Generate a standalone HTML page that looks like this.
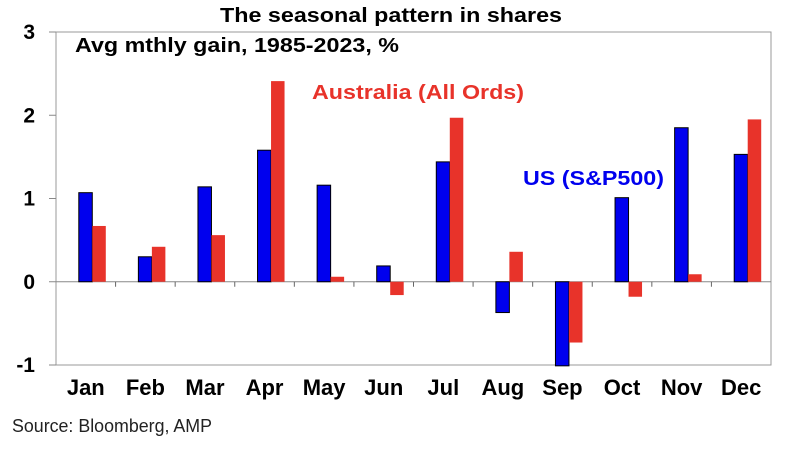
<!DOCTYPE html>
<html><head><meta charset="utf-8"><style>
body{margin:0;background:#fff;width:788px;height:448px;overflow:hidden}
svg text{font-family:"Liberation Sans",Arial,sans-serif}
</style></head><body>
<svg id="chart" width="788" height="448" xmlns="http://www.w3.org/2000/svg">
<text x="220" y="22" font-size="20" font-weight="bold" textLength="342" lengthAdjust="spacingAndGlyphs">The seasonal pattern in shares</text>
<rect x="56" y="32" width="715" height="333" fill="none" stroke="#999" stroke-width="1"/>
<g id="yaxis"></g>
<g id="xaxis"></g>
<g id="bars"></g>
<text x="75" y="52" font-size="20" font-weight="bold" textLength="324" lengthAdjust="spacingAndGlyphs">Avg mthly gain, 1985-2023, %</text>
<text x="312" y="99" font-size="20" font-weight="bold" fill="#e8332a" textLength="212" lengthAdjust="spacingAndGlyphs">Australia (All Ords)</text>
<text x="523" y="185" font-size="20" font-weight="bold" fill="#0000ee" textLength="141" lengthAdjust="spacingAndGlyphs">US (S&amp;P500)</text>
<text x="12" y="432" font-size="18" fill="#222" textLength="200" lengthAdjust="spacingAndGlyphs">Source: Bloomberg, AMP</text>
</svg>
<script>
const months=["Jan","Feb","Mar","Apr","May","Jun","Jul","Aug","Sep","Oct","Nov","Dec"];
const usValues=[1.07,0.30,1.14,1.58,1.16,0.19,1.44,-0.37,-1.01,1.01,1.85,1.53];
const ausValues=[0.67,0.42,0.56,2.41,0.06,-0.16,1.97,0.36,-0.73,-0.18,0.09,1.95];
const yTicks=[-1,0,1,2,3];
const NS="http://www.w3.org/2000/svg";
const L=56,R=771,T=32,B=365,ymin=-1,ymax=3;
const y=v=>B-(v-ymin)/(ymax-ymin)*(B-T);
const bw=(R-L)/months.length;
const xc=i=>L+bw*(i+0.5);
function mk(tag,attrs,parent){const e=document.createElementNS(NS,tag);for(const k in attrs)e.setAttribute(k,attrs[k]);parent.appendChild(e);return e;}
const ya=document.getElementById('yaxis'),xa=document.getElementById('xaxis'),bars=document.getElementById('bars');
yTicks.forEach(t=>{
  const tx=mk('text',{x:35,y:y(t)+7,'text-anchor':'end','font-size':21,'font-weight':'bold'},ya);
  tx.textContent=t;
  
  
  const tk=mk('line',{x1:49,x2:56,y1:y(t),y2:y(t),stroke:'#888'},ya);
  
  
});
const zl=mk('line',{x1:L,x2:R,y1:y(0),y2:y(0),stroke:'#888'},xa);


months.forEach((m,i)=>{
  if(i>0){const tk=mk('line',{x1:L+bw*i,x2:L+bw*i,y1:y(0),y2:y(0)+5,stroke:'#666'},xa);
    
    }
  const tx=mk('text',{x:xc(i),y:395,'text-anchor':'middle','font-size':22,'font-weight':'bold'},xa);
  tx.textContent=m;
  
  
  const w=13.5;
  const u=usValues[i],a=ausValues[i];
  const b1=mk('rect',{x:xc(i)-7,y:Math.min(y(u),y(0)),width:w,height:Math.abs(y(u)-y(0)),fill:'#0000ee',stroke:'#000','stroke-width':1},bars);
  
  
  const b2=mk('rect',{x:xc(i)+6.5,y:Math.min(y(a),y(0)),width:w,height:Math.abs(y(a)-y(0)),fill:'#e8332a'},bars);
  
  
});
</script>
</body></html>
